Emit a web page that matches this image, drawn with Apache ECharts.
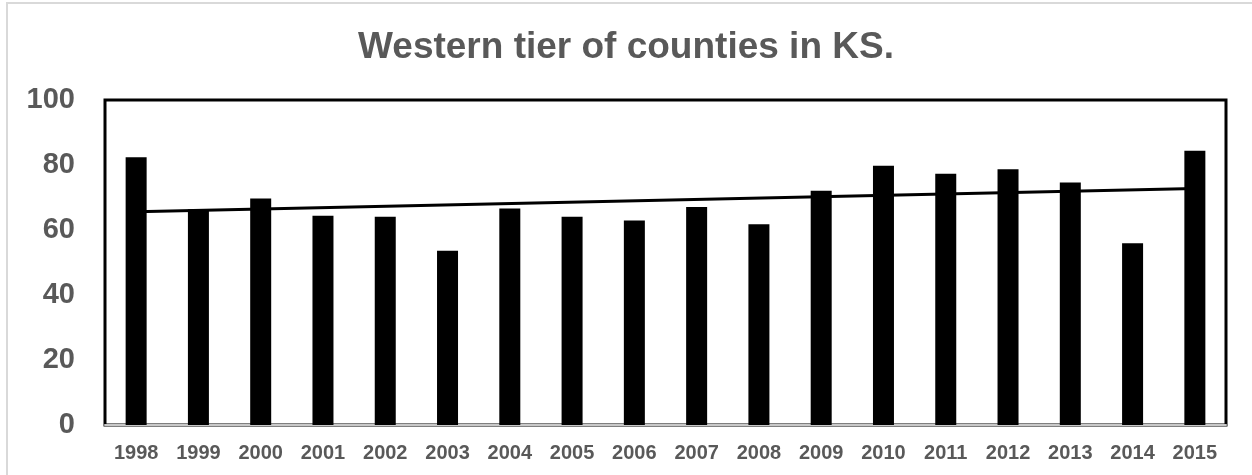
<!DOCTYPE html>
<html>
<head>
<meta charset="utf-8">
<title>Western tier of counties in KS.</title>
<script src="https://cdn.jsdelivr.net/npm/echarts@6/dist/echarts.min.js"></script>
<style>
  html, body { margin: 0; padding: 0; background: #ffffff; }
  #chart { width: 1252px; height: 475px; }
</style>
</head>
<body>
<div id="chart"></div>
<script>
// Yearly values for the western tier of counties
const years = ['1998', '1999', '2000', '2001', '2002', '2003', '2004', '2005', '2006',
               '2007', '2008', '2009', '2010', '2011', '2012', '2013', '2014', '2015'];
const values = [82.4, 66.4, 69.7, 64.4, 64.1, 53.6, 66.6, 64.1, 62.9,
                67.1, 61.8, 72.1, 79.8, 77.3, 78.7, 74.6, 55.9, 84.4];
// Linear trend: value at the first and at the last year
const trendEnds = [65.6, 72.8];
const yTicks = [0, 20, 40, 60, 80, 100];

const labelColor = '#595959';
const fontFamily = '"Liberation Sans", Arial, sans-serif';

const chart = echarts.init(document.getElementById('chart'), null, { renderer: 'canvas' });

chart.setOption({
  animation: false,
  backgroundColor: '#ffffff',
  title: {
    text: 'Western tier of counties in KS.',
    left: 'center',
    top: 24,
    textStyle: {
      color: labelColor,
      fontFamily: fontFamily,
      fontWeight: 'bold',
      fontSize: 37
    }
  },
  graphic: [
    {
      // outer frame of the chart area
      type: 'rect',
      z: -1,
      shape: { x: 7, y: 3, width: 1300, height: 520 },
      style: { fill: 'none', stroke: '#d9d9d9', lineWidth: 2 }
    }
  ],
  grid: {
    left: 105,
    right: 26,
    top: 100,
    bottom: 50,
    show: true,
    borderColor: '#000000',
    borderWidth: 3,
    backgroundColor: 'transparent'
  },
  xAxis: {
    type: 'category',
    data: years,
    offset: 2,
    axisLine: { show: true, lineStyle: { color: '#c8c8c8', width: 2 } },
    axisTick: { show: false },
    axisLabel: {
      color: labelColor,
      fontFamily: fontFamily,
      fontWeight: 'bold',
      fontSize: 20,
      margin: 16,
      interval: 0
    }
  },
  yAxis: {
    type: 'value',
    min: yTicks[0],
    max: yTicks[yTicks.length - 1],
    interval: yTicks[1] - yTicks[0],
    splitLine: { show: false },
    axisLine: { show: false },
    axisTick: { show: false },
    axisLabel: {
      color: labelColor,
      fontFamily: fontFamily,
      fontWeight: 'bold',
      fontSize: 29,
      margin: 30
    }
  },
  series: [
    {
      name: 'Trend',
      type: 'line',
      z: 1,
      symbol: 'none',
      lineStyle: { color: '#000000', width: 3 },
      data: [[years[0], trendEnds[0]], [years[years.length - 1], trendEnds[1]]]
    },
    {
      name: 'Value',
      type: 'bar',
      z: 2,
      barWidth: 21,
      itemStyle: { color: '#000000' },
      data: values
    }
  ]
});
</script>
</body>
</html>
